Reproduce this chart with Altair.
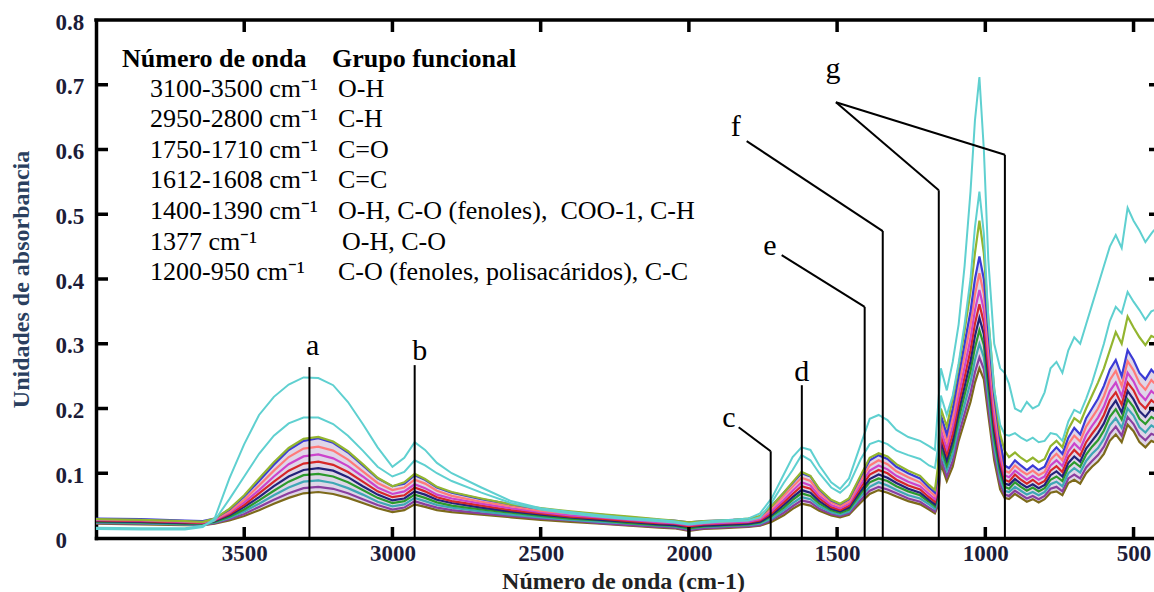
import altair as alt
import pandas as pd

# ---------------- data (absorbance in milli-units) ----------------
WAVENUMBER = [4000, 3850, 3700, 3640, 3600, 3550, 3500, 3450, 3400, 3350,
              3300, 3250, 3200, 3150, 3100, 3050, 3000, 2960, 2925, 2890,
              2850, 2800, 2700, 2600, 2500, 2400, 2300, 2200, 2100, 2050,
              2000, 1950, 1900, 1850, 1800, 1760, 1720, 1680, 1650, 1620,
              1590, 1560, 1520, 1490, 1460, 1420, 1390, 1360, 1330, 1300,
              1260, 1220, 1190, 1170, 1160, 1150, 1130, 1110, 1090, 1070,
              1050, 1035, 1020, 1005, 990, 970, 950, 935, 920, 900,
              880, 860, 840, 820, 800, 780, 760, 740, 720, 700,
              680, 660, 640, 620, 600, 580, 560, 540, 520, 500,
              480, 460, 440, 430]

C1 = [14, 13, 13, 17, 30, 92, 145, 190, 218, 237,
      248, 247, 236, 210, 176, 140, 110, 124, 148, 136,
      116, 100, 78, 57, 46, 40, 35, 31, 28, 26,
      22, 25, 27, 28, 30, 38, 62, 98, 125, 140,
      136, 112, 86, 76, 92, 145, 184, 190, 182, 167,
      156, 150, 142, 136, 200, 262, 228, 272, 330, 420,
      535, 645, 712, 600, 430, 300, 262, 255, 238, 200,
      195, 210, 200, 205, 225, 262, 272, 255, 290, 310,
      300, 330, 360, 390, 420, 450, 468, 448, 510, 490,
      475, 457, 470, 476]

C2 = [16, 15, 15, 19, 27, 60, 95, 130, 158, 177,
      186, 186, 176, 158, 135, 110, 95, 102, 120, 112,
      100, 88, 70, 54, 44, 38, 33, 29, 26, 24,
      21, 23, 25, 26, 27, 32, 55, 85, 105, 128,
      120, 100, 78, 70, 82, 122, 145, 150, 145, 135,
      128, 122, 112, 108, 140, 220, 190, 220, 270, 330,
      400, 480, 535, 470, 340, 230, 175, 160, 158, 162,
      155, 150, 155, 148, 150, 162, 160, 150, 180, 198,
      193, 215, 240, 270, 300, 335, 357, 347, 380, 365,
      352, 337, 350, 352]

Y_OLIVE = [29, 28, 26, 25, 30, 45, 66, 92, 117, 139,
           153, 156, 149, 134, 114, 93, 80, 86, 99, 91,
           79, 71, 61, 52, 46, 41, 37, 33, 29, 27,
           24, 26, 27, 28, 30, 34, 50, 70, 86, 102,
           96, 76, 59, 53, 61, 97, 124, 131, 126, 114,
           104, 96, 82, 74, 110, 200, 172, 215, 265, 320,
           380, 440, 490, 440, 340, 230, 160, 135, 125, 132,
           124, 118, 124, 117, 122, 142, 150, 140, 168, 185,
           178, 200, 220, 240, 262, 290, 318, 300, 342, 325,
           310, 298, 312, 310]

BAND_T = [30, 29, 27, 26, 30, 44, 64, 88, 113, 136,
          150, 154, 147, 132, 112, 92, 80, 84, 97, 90,
          78, 70, 60, 52, 45, 40, 36, 32, 28, 27,
          24, 26, 27, 28, 29, 33, 50, 70, 85, 100,
          95, 75, 58, 52, 60, 95, 120, 128, 122, 110,
          100, 92, 78, 70, 95, 190, 160, 200, 250, 300,
          350, 400, 435, 400, 320, 220, 150, 112, 108, 120,
          112, 105, 112, 105, 110, 130, 140, 130, 155, 170,
          160, 185, 200, 215, 235, 260, 275, 250, 290, 275,
          255, 245, 260, 255]

BAND_L1 = [29, 28, 26, 25, 29, 41, 59, 81, 104, 125,
           138, 141, 135, 121, 103, 85, 74, 78, 90, 84,
           73, 65, 56, 49, 42, 38, 34, 30, 26, 25,
           22, 24, 25, 26, 27, 31, 46, 65, 79, 93,
           88, 70, 55, 49, 56, 89, 112, 120, 114, 103,
           94, 86, 73, 65, 88, 179, 149, 186, 235, 282,
           329, 376, 409, 377, 300, 205, 139, 104, 101, 112,
           104, 98, 104, 97, 102, 121, 130, 120, 145, 158,
           149, 172, 186, 200, 219, 244, 258, 235, 273, 259,
           239, 229, 244, 239]

BAND_L2 = [28, 27, 25, 24, 28, 39, 55, 74, 95, 114,
           126, 129, 123, 111, 95, 78, 68, 72, 83, 77,
           67, 61, 53, 46, 40, 35, 32, 28, 24, 23,
           20, 22, 23, 24, 25, 29, 42, 59, 73, 86,
           81, 65, 51, 46, 53, 83, 104, 112, 106, 96,
           87, 80, 68, 60, 81, 167, 138, 173, 220, 264,
           308, 352, 383, 353, 281, 190, 127, 97, 94, 104,
           97, 90, 96, 90, 95, 112, 120, 111, 134, 146,
           137, 159, 173, 186, 203, 227, 240, 219, 255, 242,
           223, 213, 227, 223]

BAND_L3 = [27, 26, 24, 23, 27, 37, 51, 69, 87, 104,
           115, 118, 113, 102, 87, 72, 63, 66, 78, 72,
           63, 57, 50, 43, 38, 33, 30, 26, 23, 22,
           18, 21, 22, 23, 24, 27, 39, 55, 68, 80,
           76, 61, 48, 43, 50, 78, 98, 105, 100, 90,
           81, 75, 63, 56, 76, 158, 129, 161, 207, 248,
           290, 331, 361, 333, 264, 177, 118, 90, 87, 98,
           90, 84, 90, 83, 88, 104, 111, 102, 125, 136,
           127, 148, 161, 173, 190, 213, 225, 206, 240, 228,
           209, 200, 213, 209]

BAND_L4 = [26, 25, 23, 23, 26, 35, 48, 63, 80, 95,
           105, 108, 104, 94, 80, 67, 58, 61, 72, 67,
           59, 54, 47, 41, 36, 32, 28, 25, 21, 20,
           17, 19, 20, 21, 22, 25, 36, 51, 63, 74,
           70, 57, 45, 41, 47, 73, 91, 98, 93, 85,
           76, 70, 59, 52, 70, 149, 120, 150, 195, 234,
           273, 312, 340, 315, 248, 165, 109, 84, 82, 91,
           84, 78, 83, 77, 82, 97, 103, 95, 116, 126,
           118, 138, 150, 162, 177, 199, 212, 194, 227, 214,
           196, 187, 199, 196]

BAND_L5 = [25, 24, 22, 22, 25, 33, 44, 58, 73, 87,
           97, 99, 95, 86, 74, 62, 54, 57, 67, 62,
           55, 50, 44, 39, 34, 30, 27, 23, 20, 19,
           15, 18, 19, 20, 21, 24, 34, 47, 59, 69,
           65, 53, 43, 39, 44, 69, 86, 92, 88, 80,
           72, 66, 56, 49, 65, 140, 112, 141, 184, 221,
           258, 294, 321, 298, 234, 154, 101, 79, 76, 86,
           79, 73, 78, 72, 77, 90, 95, 88, 109, 117,
           110, 129, 141, 151, 166, 187, 199, 183, 214, 202,
           184, 176, 187, 184]

BAND_L6 = [24, 23, 21, 21, 24, 31, 41, 53, 66, 78,
           87, 89, 85, 77, 67, 56, 49, 52, 62, 57,
           51, 47, 41, 36, 32, 28, 25, 22, 19, 18,
           14, 17, 18, 19, 20, 22, 30, 43, 54, 63,
           60, 49, 40, 36, 41, 64, 79, 86, 81, 74,
           66, 61, 52, 45, 60, 132, 104, 130, 172, 206,
           241, 275, 300, 279, 219, 142, 92, 73, 71, 79,
           73, 67, 71, 66, 71, 83, 87, 80, 100, 108,
           101, 119, 130, 139, 153, 174, 185, 170, 200, 189,
           171, 163, 174, 171]

BAND_L7 = [23, 22, 21, 20, 23, 29, 37, 48, 59, 69,
           77, 79, 76, 69, 60, 51, 44, 47, 57, 52,
           47, 43, 38, 34, 30, 27, 23, 20, 17, 16,
           12, 15, 16, 17, 18, 20, 28, 39, 49, 58,
           55, 45, 37, 34, 38, 59, 73, 79, 75, 69,
           61, 56, 47, 41, 55, 123, 95, 119, 160, 192,
           224, 256, 279, 261, 203, 130, 83, 67, 65, 73,
           67, 61, 65, 60, 65, 76, 79, 72, 92, 98,
           92, 109, 119, 128, 141, 161, 172, 158, 187, 176,
           159, 151, 161, 159]

BAND_B = [22, 21, 20, 20, 22, 27, 34, 43, 53, 62,
          69, 71, 68, 62, 54, 46, 40, 43, 52, 48,
          43, 40, 36, 32, 28, 25, 22, 19, 16, 15,
          11, 14, 15, 16, 17, 19, 25, 35, 45, 53,
          50, 42, 35, 32, 36, 55, 68, 74, 70, 64,
          57, 52, 44, 38, 50, 115, 88, 110, 150, 180,
          210, 240, 262, 245, 190, 120, 75, 62, 60, 68,
          62, 56, 60, 55, 60, 70, 72, 66, 85, 90,
          84, 100, 110, 118, 130, 150, 160, 148, 175, 165,
          148, 140, 150, 148]

BAND_NAMES = ["B", "L7", "L6", "L5", "L4", "L3", "L2", "L1", "T", "Y"]
BAND_VALUES = [BAND_B, BAND_L7, BAND_L6, BAND_L5, BAND_L4, BAND_L3,
               BAND_L2, BAND_L1, BAND_T, Y_OLIVE]
BAND_COLORS = ["#7d6a1a", "#8a3fa0", "#3fa7b5", "#2c9a2c", "#23237a",
               "#d62728", "#cc44cc", "#ff7a7a", "#3b3bd6", "#93b52f"]
CYAN_NAMES = ["C2", "C1"]
CYAN_VALUES = [C2, C1]

# annotation leader lines (wavenumber, absorbance)
SEG_X1 = [3280, 2925, 1724, 1724, 1619, 1407, 1407, 1346, 1346, 1157, 1157, 934, 934]
SEG_Y1 = [0, 0, 0, 0.134, 0, 0, 0.357, 0, 0.474, 0, 0.537, 0, 0.592]
SEG_X2 = [3280, 2925, 1724, 1832, 1619, 1407, 1687, 1346, 1805, 1157, 1504, 934, 1504]
SEG_Y2 = [0.264, 0.267, 0.134, 0.171, 0.236, 0.357, 0.437, 0.474, 0.613, 0.537, 0.673, 0.592, 0.673]

PEAK_LABELS = ["a", "b", "c", "d", "e", "f", "g"]
PEAK_X = [3269, 2908, 1865, 1619, 1727, 1842, 1514]
PEAK_Y = [0.283, 0.275, 0.171, 0.242, 0.437, 0.621, 0.710]

LEGEND_HEADER = ["Número de onda", "Grupo funcional"]
LEGEND_RANGES = ["3100-3500 cm⁻¹", "2950-2800 cm⁻¹", "1750-1710 cm⁻¹",
                 "1612-1608 cm⁻¹", "1400-1390 cm⁻¹", "1377 cm⁻¹", "1200-950 cm⁻¹"]
LEGEND_GROUPS = ["O-H", "C-H", "C=O", "C=C",
                 "O-H, C-O (fenoles),\u00a0 COO-1, C-H", "O-H, C-O",
                 "C-O (fenoles, polisacáridos), C-C"]

X_TICKS = [3500, 3000, 2500, 2000, 1500, 1000, 500]
Y_TICKS = [0.1, 0.2, 0.3, 0.4, 0.5, 0.6, 0.7]
Y_LABELS = [0, 0.1, 0.2, 0.3, 0.4, 0.5, 0.6, 0.7, 0.8]

# ---------------- tables ----------------
def long_table(names, values):
    rows = []
    for name, vals in zip(names, values):
        assert len(vals) == len(WAVENUMBER), name
        for wn, v in zip(WAVENUMBER, vals):
            rows.append({"wn": wn, "A": v / 1000.0, "serie": name})
    return pd.DataFrame(rows)

df_band = long_table(BAND_NAMES, BAND_VALUES)
df_cyan = long_table(CYAN_NAMES, CYAN_VALUES)
df_env = pd.DataFrame({"wn": WAVENUMBER,
                       "lo": [v / 1000.0 for v in BAND_B],
                       "hi": [v / 1000.0 for v in BAND_T]})
df_seg = pd.DataFrame({"wn": SEG_X1, "A": SEG_Y1, "wn2": SEG_X2, "A2": SEG_Y2})
df_peak = pd.DataFrame({"wn": PEAK_X, "A": PEAK_Y, "lab": PEAK_LABELS})

W, H = 1058, 518
SERIF = "Liberation Serif"
LABEL_COLOR = "#1c1c38"

df_head = pd.DataFrame({"px": [26, 236], "py": [47, 47], "txt": LEGEND_HEADER})
row_x2 = [242, 242, 242, 242, 242, 246, 242]
leg_rows = []
for i, (r, g) in enumerate(zip(LEGEND_RANGES, LEGEND_GROUPS)):
    base = 76.5 + 30.6 * i
    leg_rows.append({"px": 54, "py": base, "txt": r})
    leg_rows.append({"px": row_x2[i], "py": base, "txt": g})
df_leg = pd.DataFrame(leg_rows)

x_scale = alt.Scale(domain=[431, 4000], reverse=True, nice=False, zero=False)
y_scale = alt.Scale(domain=[0, 0.8], nice=False, zero=False)

x_axis = alt.Axis(
    values=X_TICKS, format="d", ticks=False, tickSize=0, grid=False,
    domain=True, domainColor="black", domainWidth=3.5, domainCap="square",
    labelFont=SERIF, labelFontWeight="bold", labelFontSize=23, labelColor=LABEL_COLOR,
    labelPadding=4, labelFlush=False, labelOverlap=False,
    title="Número de onda (cm-1)", titleFont=SERIF, titleFontWeight="bold",
    titleFontSize=24, titleColor="#222222", titleX=527, titleY=43,
    titleBaseline="middle", titleAlign="center",
)
y_axis = alt.Axis(
    values=Y_LABELS, labelExpr="datum.value == 0 ? '0' : format(datum.value, '.1f')",
    ticks=False, tickSize=0, grid=False,
    domain=True, domainColor="black", domainWidth=3.5, domainCap="square",
    labelFont=SERIF, labelFontWeight="bold", labelFontSize=23, labelColor=LABEL_COLOR,
    labelAlign="left", labelPadding=41, labelBaseline="middle", labelOffset=2,
    labelFlush=False, labelOverlap=False,
    title="Unidades de absorbancia", titleFont=SERIF, titleFontWeight="bold",
    titleFontSize=24, titleColor="#2a3f5f", titleAngle=270, titleX=-75, titleY=259,
    titleAlign="center", titleBaseline="middle",
)

envelope = alt.Chart(df_env).mark_area(color="#9b7fb6", opacity=0.32, clip=True).encode(
    x=alt.X("wn:Q", scale=x_scale, axis=x_axis),
    y=alt.Y("lo:Q", scale=y_scale, axis=y_axis),
    y2="hi:Q",
)

band = alt.Chart(df_band).mark_line(strokeWidth=2.2, clip=True).encode(
    x=alt.X("wn:Q", axis=None),
    y=alt.Y("A:Q", axis=None),
    color=alt.Color("serie:N", scale=alt.Scale(domain=BAND_NAMES, range=BAND_COLORS), legend=None),
)

cyan = alt.Chart(df_cyan).mark_line(strokeWidth=2.0, clip=True, color="#5fd0d0").encode(
    x=alt.X("wn:Q", axis=None),
    y=alt.Y("A:Q", axis=None),
    detail="serie:N",
)

segs = alt.Chart(df_seg).mark_rule(strokeWidth=2, color="black").encode(
    x=alt.X("wn:Q", axis=None), y=alt.Y("A:Q", axis=None), x2="wn2:Q", y2="A2:Q",
)

peaks = alt.Chart(df_peak).mark_text(font=SERIF, fontSize=30, align="center",
                                      baseline="alphabetic", color="black").encode(
    x=alt.X("wn:Q", axis=None), y=alt.Y("A:Q", axis=None), text="lab:N",
)

top_frame = alt.Chart(pd.DataFrame({"wn": [4000], "wn2": [431], "A": [0.8]})).mark_rule(
    strokeWidth=3.5, color="black", strokeCap="square").encode(
    x=alt.X("wn:Q", axis=None), x2="wn2:Q", y=alt.Y("A:Q", axis=None),
)

df_xt = pd.DataFrame({"wn": X_TICKS})
df_yt = pd.DataFrame({"A": Y_TICKS})
bottom_ticks = alt.Chart(df_xt).mark_rule(strokeWidth=3.5, color="black").encode(
    x=alt.X("wn:Q", axis=None), y=alt.value(H), y2=alt.value(H - 11))
top_ticks = alt.Chart(df_xt).mark_rule(strokeWidth=3.5, color="black").encode(
    x=alt.X("wn:Q", axis=None), y=alt.value(0), y2=alt.value(12))
left_ticks = alt.Chart(df_yt).mark_rule(strokeWidth=3.5, color="black").encode(
    y=alt.Y("A:Q", axis=None), x=alt.value(0), x2=alt.value(12))
right_ticks = alt.Chart(df_yt).mark_rule(strokeWidth=3.5, color="black").encode(
    y=alt.Y("A:Q", axis=None), x=alt.value(W - 5), x2=alt.value(W))

legend_head = alt.Chart(df_head).mark_text(font=SERIF, fontSize=26, fontWeight="bold",
                                           align="left", baseline="alphabetic",
                                           color="black").encode(
    x=alt.X("px:Q", scale=None, axis=None), y=alt.Y("py:Q", scale=None, axis=None), text="txt:N")
legend_rows = alt.Chart(df_leg).mark_text(font=SERIF, fontSize=26, align="left",
                                          baseline="alphabetic", color="black").encode(
    x=alt.X("px:Q", scale=None, axis=None), y=alt.Y("py:Q", scale=None, axis=None), text="txt:N")

chart = alt.layer(
    envelope, band, cyan, segs, peaks, top_frame, bottom_ticks, top_ticks, left_ticks,
    right_ticks, legend_head, legend_rows,
).resolve_axis(
    x="independent", y="independent"
).properties(
    width=W, height=H,
    autosize=alt.AutoSizeParams(type="none"),
    padding={"left": 96, "top": 20, "right": 0, "bottom": 54},
    background="white",
).configure_view(stroke=None)

chart.save("out.html", embed_options={"renderer": "svg", "actions": False})
